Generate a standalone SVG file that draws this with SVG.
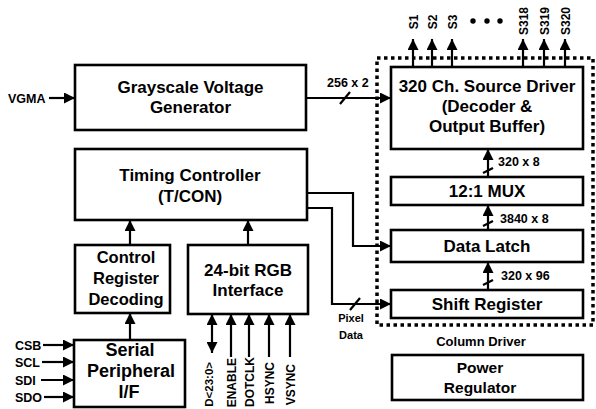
<svg xmlns="http://www.w3.org/2000/svg" width="596" height="409" viewBox="0 0 596 409">
<style>
  .box { fill: #fff; stroke: #000; stroke-width: 2.6; }
  .big { font-family: "Liberation Sans", Arial, sans-serif; font-weight: bold; font-size: 17px; text-anchor: middle; fill: #000; }
  .sm { font-family: "Liberation Sans", Arial, sans-serif; font-weight: bold; font-size: 12.5px; fill: #000; }
  .vt { font-family: "Liberation Sans", Arial, sans-serif; font-weight: bold; font-size: 12px; fill: #000; }
  .ln { fill: none; stroke: #000; stroke-width: 2.2; }
  .dot { fill: none; stroke: #000; stroke-width: 3.5; stroke-dasharray: 3.5 3.5; }
</style>
<defs>
  <marker id="ah" viewBox="0 0 10 10" refX="10" refY="5" markerUnits="userSpaceOnUse" markerWidth="12" markerHeight="11" orient="auto">
    <path d="M0,0 L10,5 L0,10 z" fill="#000"/>
  </marker>
  <marker id="ahs" viewBox="0 0 10 10" refX="0" refY="5" markerUnits="userSpaceOnUse" markerWidth="12" markerHeight="11" orient="auto">
    <path d="M10,0 L0,5 L10,10 z" fill="#000"/>
  </marker>
</defs>

<g id="column-driver">
  <rect class="dot" x="377" y="58" width="216" height="267"/>
  <text class="sm" x="481" y="346" text-anchor="middle" style="font-size:13px">Column Driver</text>
</g>

<g id="grayscale">
  <rect class="box" x="75" y="65" width="231" height="65"/>
  <text class="big" x="190.5" y="93">Grayscale Voltage</text>
  <text class="big" x="190.5" y="113">Generator</text>
</g>

<g id="source-driver">
  <rect class="box" x="391" y="67" width="192" height="82"/>
  <text class="big" x="487" y="92">320 Ch. Source Driver</text>
  <text class="big" x="487" y="112">(Decoder &amp;</text>
  <text class="big" x="487" y="132">Output Buffer)</text>
</g>

<g id="tcon">
  <rect class="box" x="75" y="149" width="232" height="71"/>
  <text class="big" x="190" y="181">Timing Controller</text>
  <text class="big" x="190" y="202">(T/CON)</text>
</g>

<g id="mux">
  <rect class="box" x="391" y="177" width="192" height="28"/>
  <text class="big" x="487" y="197">12:1 MUX</text>
</g>

<g id="data-latch">
  <rect class="box" x="391" y="230" width="192" height="32"/>
  <text class="big" x="487" y="252">Data Latch</text>
</g>

<g id="shift-register">
  <rect class="box" x="391" y="290" width="192" height="28"/>
  <text class="big" x="487" y="310">Shift Register</text>
</g>

<g id="control-register">
  <rect class="box" x="75" y="245" width="95" height="68"/>
  <text class="big" x="126" y="263" style="font-size:16.5px">Control</text>
  <text class="big" x="126" y="284" style="font-size:16.5px">Register</text>
  <text class="big" x="126" y="305" style="font-size:16.5px">Decoding</text>
</g>

<g id="rgb-interface">
  <rect class="box" x="188" y="245" width="120" height="69"/>
  <text class="big" x="248" y="276">24-bit RGB</text>
  <text class="big" x="248" y="296">Interface</text>
</g>

<g id="serial">
  <rect class="box" x="74" y="340" width="111" height="67"/>
  <text class="big" x="130" y="356" style="font-size:18px">Serial</text>
  <text class="big" x="131" y="377" style="font-size:18px">Peripheral</text>
  <text class="big" x="129" y="398" style="font-size:18px">I/F</text>
</g>

<g id="power-regulator">
  <rect class="box" x="392" y="355" width="191" height="45"/>
  <text class="big" x="480" y="373" style="font-size:15.5px">Power</text>
  <text class="big" x="480" y="393" style="font-size:15.5px">Regulator</text>
</g>

<g id="labels">
  <text class="sm" x="8" y="103">VGMA</text>
  <text class="sm" x="327" y="87">256 x 2</text>
  <text class="sm" x="498" y="166">320 x 8</text>
  <text class="sm" x="500" y="223">3840 x 8</text>
  <text class="sm" x="501" y="280">320 x 96</text>
  <text class="sm" x="351" y="322" text-anchor="middle" style="font-size:11px">Pixel</text>
  <text class="sm" x="351" y="339" text-anchor="middle" style="font-size:11px">Data</text>
  <text class="sm" x="15" y="350">CSB</text>
  <text class="sm" x="15" y="367">SCL</text>
  <text class="sm" x="15" y="385">SDI</text>
  <text class="sm" x="15" y="402">SDO</text>
  <text class="vt" text-anchor="middle" transform="translate(417.5,22) rotate(-90)">S1</text>
  <text class="vt" text-anchor="middle" transform="translate(436.5,22) rotate(-90)">S2</text>
  <text class="vt" text-anchor="middle" transform="translate(456.5,22) rotate(-90)">S3</text>
  <text class="vt" text-anchor="middle" transform="translate(527.5,21) rotate(-90)">S318</text>
  <text class="vt" text-anchor="middle" transform="translate(548.5,21) rotate(-90)">S319</text>
  <text class="vt" text-anchor="middle" transform="translate(569.5,21) rotate(-90)">S320</text>
  <circle cx="473" cy="21" r="2.7"/>
  <circle cx="487" cy="21" r="2.7"/>
  <circle cx="500" cy="21" r="2.7"/>
  <text class="vt" text-anchor="end" transform="translate(213,362) rotate(-90)" style="font-size:11.5px">D&lt;23:0&gt;</text>
  <text class="vt" text-anchor="end" transform="translate(235.5,358) rotate(-90)">ENABLE</text>
  <text class="vt" text-anchor="end" transform="translate(253.5,357) rotate(-90)">DOTCLK</text>
  <text class="vt" text-anchor="end" transform="translate(273.5,362) rotate(-90)">HSYNC</text>
  <text class="vt" text-anchor="end" transform="translate(294.5,364) rotate(-90)">VSYNC</text>
</g>

<g id="connectors">
  <line class="ln" x1="49" y1="98" x2="75" y2="98" marker-end="url(#ah)"/>
  <line class="ln" x1="306" y1="98" x2="391" y2="98" marker-end="url(#ah)"/>
  <line class="ln" x1="340" y1="104" x2="350" y2="92"/>
  <line class="ln" x1="413" y1="67" x2="413" y2="39" marker-end="url(#ah)"/>
  <line class="ln" x1="432" y1="67" x2="432" y2="39" marker-end="url(#ah)"/>
  <line class="ln" x1="452" y1="67" x2="452" y2="39" marker-end="url(#ah)"/>
  <line class="ln" x1="523" y1="67" x2="523" y2="39" marker-end="url(#ah)"/>
  <line class="ln" x1="544" y1="67" x2="544" y2="39" marker-end="url(#ah)"/>
  <line class="ln" x1="565" y1="67" x2="565" y2="39" marker-end="url(#ah)"/>
  <line class="ln" x1="488" y1="177" x2="488" y2="149" marker-end="url(#ah)"/>
  <line class="ln" x1="483" y1="173" x2="493" y2="168"/>
  <line class="ln" x1="488" y1="230" x2="488" y2="205" marker-end="url(#ah)"/>
  <line class="ln" x1="483" y1="226" x2="493" y2="221"/>
  <line class="ln" x1="488" y1="290" x2="488" y2="262" marker-end="url(#ah)"/>
  <line class="ln" x1="483" y1="285" x2="493" y2="280"/>
  <polyline class="ln" points="307,193 353,193 353,246 391,246" marker-end="url(#ah)"/>
  <polyline class="ln" points="307,208 332,208 332,304 391,304" marker-end="url(#ah)"/>
  <line class="ln" x1="350" y1="310" x2="360" y2="298"/>
  <line class="ln" x1="130" y1="245" x2="130" y2="220" marker-end="url(#ah)"/>
  <line class="ln" x1="248" y1="245" x2="248" y2="220" marker-end="url(#ah)"/>
  <line class="ln" x1="130" y1="340" x2="130" y2="313" marker-end="url(#ah)"/>
  <line class="ln" x1="43" y1="345" x2="74" y2="345" marker-end="url(#ah)"/>
  <line class="ln" x1="42" y1="362" x2="74" y2="362" marker-end="url(#ah)"/>
  <line class="ln" x1="41" y1="380" x2="74" y2="380" marker-end="url(#ah)"/>
  <line class="ln" x1="44" y1="397" x2="74" y2="397" marker-end="url(#ah)"/>
  <line class="ln" x1="212" y1="353" x2="212" y2="314" marker-start="url(#ahs)" marker-end="url(#ah)"/>
  <line class="ln" x1="231" y1="357" x2="231" y2="314" marker-end="url(#ah)"/>
  <line class="ln" x1="249" y1="357" x2="249" y2="314" marker-end="url(#ah)"/>
  <line class="ln" x1="269" y1="357" x2="269" y2="314" marker-end="url(#ah)"/>
  <line class="ln" x1="290" y1="357" x2="290" y2="314" marker-end="url(#ah)"/>
</g>
</svg>
